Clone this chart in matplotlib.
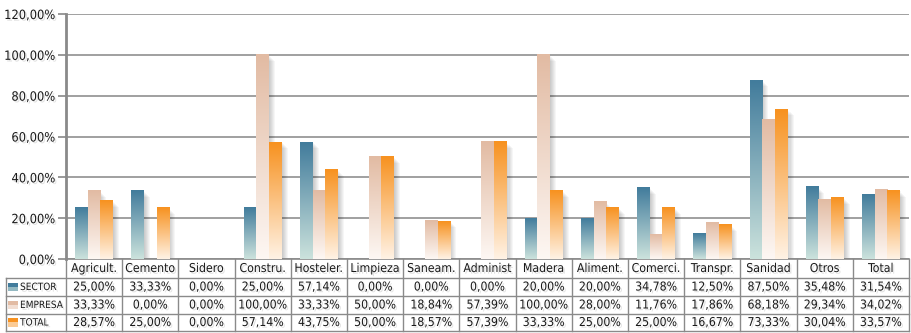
import matplotlib
matplotlib.use("Agg")
import matplotlib.pyplot as plt
import matplotlib.patheffects as pe
import matplotlib.transforms as mtransforms
from matplotlib.patches import Rectangle
from matplotlib.colors import to_rgb
from matplotlib.ticker import FuncFormatter
from matplotlib import font_manager
import numpy as np

categories = ["Agricult.", "Cemento", "Sidero", "Constru.", "Hosteler.",
              "Limpieza", "Saneam.", "Administ", "Madera", "Aliment.",
              "Comerci.", "Transpr.", "Sanidad", "Otros", "Total"]
series_names = ["SECTOR", "EMPRESA", "TOTAL"]
sector = [25.00, 33.33, 0.00, 25.00, 57.14, 0.00, 0.00, 0.00, 20.00, 20.00,
          34.78, 12.50, 87.50, 35.48, 31.54]
empresa = [33.33, 0.00, 0.00, 100.00, 33.33, 50.00, 18.84, 57.39, 100.00,
           28.00, 11.76, 17.86, 68.18, 29.34, 34.02]
total = [28.57, 25.00, 0.00, 57.14, 43.75, 50.00, 18.57, 57.39, 33.33, 25.00,
         25.00, 16.67, 73.33, 30.04, 33.57]
yticks = [0, 20, 40, 60, 80, 100, 120]

# gradient colours: (top, bottom)
grads = [("#427c9c", "#cbe2dc"),
         ("#e2bba3", "#fdf7f3"),
         ("#f79220", "#fff2e4")]

# condensed face if one is installed, else a smaller regular one
names = {f.name for f in font_manager.fontManager.ttflist}
cond = [f for f in font_manager.fontManager.ttflist
        if f.name == "DejaVu Sans" and f.stretch == "condensed"]
if "Liberation Sans Narrow" in names:
    FAMILY, STRETCH, FS, FS_ROW = "Liberation Sans Narrow", "normal", 8.5, 8.0
elif cond:
    FAMILY, STRETCH, FS, FS_ROW = "DejaVu Sans", "condensed", 8.8, 7.2
else:
    FAMILY, STRETCH, FS, FS_ROW = "Liberation Sans", "normal", 7.4, 6.5
plt.rcParams["font.family"] = [FAMILY, "DejaVu Sans"]
plt.rcParams["font.stretch"] = STRETCH

GRID = "#a0a0a0"
TXT = "#1a1a1a"
shadow = [pe.withSimplePatchShadow(offset=(1.2, -1.2), shadow_rgbFace="#888888",
                                   alpha=0.25)]


def pct(v):
    return f"{v:.2f}".replace(".", ",") + "%"


fig = plt.figure(figsize=(9.11, 3.33), dpi=100)
ax = fig.add_axes([66 / 911, 1 - 259 / 333, 843 / 911, 245 / 333])

x = np.arange(len(categories))
w = 0.225
for k, vals in enumerate([sector, empresa, total]):
    top, bot = grads[k]
    bars = ax.bar(x + (k - 1) * w, vals, w, color=top, lw=0, zorder=3)
    t = np.linspace(0, 1, 64)[:, None, None]
    grad = (1 - t) * np.array(to_rgb(bot)) + t * np.array(to_rgb(top))
    for rect in bars:
        h = rect.get_height()
        if h <= 0:
            continue
        x0 = rect.get_x()
        # soft drop shadow
        for j in range(1, 7):
            ax.add_patch(Rectangle((x0 + 0.018 * j, 0), w,
                                   max(h - 0.5 * j, 0), color="k",
                                   alpha=0.035, lw=0, zorder=2))
        ax.imshow(grad, extent=(x0, x0 + w, 0, h), aspect="auto",
                  origin="lower", zorder=3.1, interpolation="bilinear")

ax.set_xlim(-0.5, len(categories) - 0.5)
ax.set_ylim(0, 120)
ax.set_aspect("auto")
ax.set_yticks(yticks)
ax.yaxis.set_major_formatter(FuncFormatter(lambda v, p: pct(v)))
ax.set_xticks([])
ax.yaxis.grid(True, color=GRID, lw=1.4)
ax.set_axisbelow(True)
ax.tick_params(axis="y", length=6, width=1.2, color="#888888", pad=2,
               labelsize=FS + 0.4, labelcolor=TXT)
for lab in ax.get_yticklabels():
    lab.set_path_effects(shadow)
for s in ("top", "right"):
    ax.spines[s].set_visible(False)
ax.spines["left"].set_color("#8a8a8a")
ax.spines["left"].set_linewidth(2.0)
ax.spines["bottom"].set_color("#8a8a8a")
ax.spines["bottom"].set_linewidth(1.2)

# data table under the plot
trans = mtransforms.blended_transform_factory(ax.transData, ax.transAxes)
edges = [0, -19 / 245, -37 / 245, -55 / 245, -72 / 245]
xl = -0.5 - 60 / 56.2
xr = len(categories) - 0.5
lc = "#8a8a8a"
for i in range(len(categories) + 1):
    ax.plot([i - 0.5, i - 0.5], [edges[0], edges[-1]], color=lc, lw=1.0,
            transform=trans, clip_on=False)
ax.plot([xl, xl], [edges[1], edges[-1]], color=lc, lw=1.0,
        transform=trans, clip_on=False)
for e in edges[1:]:
    ax.plot([xl, xr], [e, e], color=lc, lw=1.0, transform=trans,
            clip_on=False)

for i, c in enumerate(categories):
    ax.text(i, (edges[0] + edges[1]) / 2, c, ha="center", va="center",
            fontsize=FS, color=TXT, transform=trans, path_effects=shadow)

for r, (name, vals) in enumerate(zip(series_names, [sector, empresa, total])):
    yc = (edges[r + 1] + edges[r + 2]) / 2
    top, bot = grads[r]
    ax.add_patch(Rectangle((xl + 0.03, yc - 0.018), 0.19, 0.036,
                           color=top, lw=0, transform=trans, clip_on=False))
    ax.add_patch(Rectangle((xl + 0.03, yc - 0.018), 0.19, 0.018,
                           color=bot, alpha=0.6, lw=0, transform=trans,
                           clip_on=False))
    ax.text(xl + 0.25, yc, name, ha="left", va="center", fontsize=FS_ROW,
            color=TXT, transform=trans, path_effects=shadow)
    for i, v in enumerate(vals):
        ax.text(i, yc, pct(v), ha="center", va="center", fontsize=FS,
                color=TXT, transform=trans, path_effects=shadow)

fig.savefig("out.png", dpi=100, facecolor="white")
